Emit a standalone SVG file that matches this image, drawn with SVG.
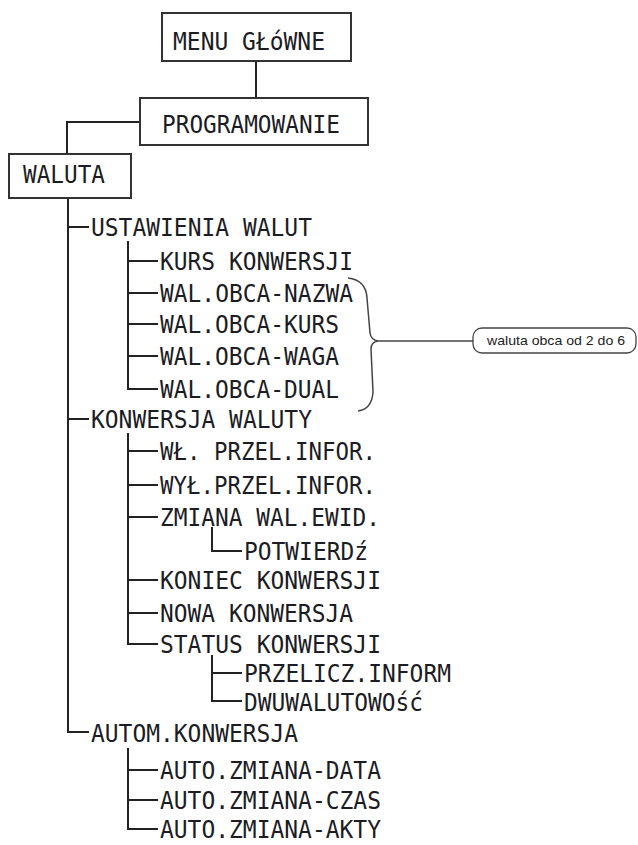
<svg xmlns="http://www.w3.org/2000/svg" width="638" height="845" viewBox="0 0 638 845">
<style>
.box{fill:#fff;stroke:#333;stroke-width:2}
.ln{fill:none;stroke:#222;stroke-width:2}
.br{fill:none;stroke:#444;stroke-width:1.5}
.t{font-family:"DejaVu Sans Mono","Liberation Mono",monospace;font-size:25px;fill:#1c1c24}
.n{font-family:"Liberation Sans",Arial,sans-serif;font-size:13px;fill:#222}
</style>
<rect width="638" height="845" fill="#fff"/>
<g id="connectors">
<path class="ln" d="M256 61V98"/>
<path class="ln" d="M140 122H67V154"/>
<path class="ln" d="M68 198V732H89"/>
<path class="ln" d="M68 227H89M68 419H89"/>
<path class="ln" d="M128 241V389H158M128 261H158M128 293H158M128 324H158M128 356H158"/>
<path class="ln" d="M128 433V644H158M128 451H158M128 485H158M128 517H158M128 580H158M128 613H158"/>
<path class="ln" d="M212 527V551H242"/>
<path class="ln" d="M212 655V701H242M212 673H242"/>
<path class="ln" d="M128 748V829H158M128 770H158M128 800H158"/>
<path class="br" d="M348 278Q366 280 367 298L370 333Q371 340 378 341Q371 342 371 349L373 392Q372 409 358 411"/>
<path class="br" d="M378 341H473"/>
</g>
<g id="menu"><rect class="box" x="162" y="13" width="189" height="48"/><text class="t" x="173" y="50" textLength="152" lengthAdjust="spacingAndGlyphs">MENU GŁóWNE</text></g>
<g id="programowanie"><rect class="box" x="140" y="98" width="228" height="47"/><text class="t" x="162" y="133" textLength="178" lengthAdjust="spacingAndGlyphs">PROGRAMOWANIE</text></g>
<g id="waluta"><rect class="box" x="9" y="154" width="122" height="44"/><text class="t" x="23" y="183" textLength="82" lengthAdjust="spacingAndGlyphs">WALUTA</text></g>
<g id="ustawienia"><text class="t" x="91" y="236" textLength="221" lengthAdjust="spacingAndGlyphs">USTAWIENIA WALUT</text></g>
<g id="kurs-konw"><text class="t" x="160" y="270" textLength="193" lengthAdjust="spacingAndGlyphs">KURS KONWERSJI</text></g>
<g id="obca-nazwa"><text class="t" x="160" y="302" textLength="193" lengthAdjust="spacingAndGlyphs">WAL.OBCA-NAZWA</text></g>
<g id="obca-kurs"><text class="t" x="160" y="333" textLength="179" lengthAdjust="spacingAndGlyphs">WAL.OBCA-KURS</text></g>
<g id="obca-waga"><text class="t" x="160" y="365" textLength="179" lengthAdjust="spacingAndGlyphs">WAL.OBCA-WAGA</text></g>
<g id="obca-dual"><text class="t" x="160" y="398" textLength="179" lengthAdjust="spacingAndGlyphs">WAL.OBCA-DUAL</text></g>
<g id="note"><rect x="473" y="328" width="163" height="25" rx="9" fill="#fff" stroke="#444" stroke-width="1.3"/><text class="n" x="487" y="345" textLength="138" lengthAdjust="spacingAndGlyphs">waluta obca od 2 do 6</text></g>
<g id="konwersja-waluty"><text class="t" x="91" y="428" textLength="221" lengthAdjust="spacingAndGlyphs">KONWERSJA WALUTY</text></g>
<g id="wl"><text class="t" x="160" y="460" textLength="216" lengthAdjust="spacingAndGlyphs">WŁ. PRZEL.INFOR.</text></g>
<g id="wyl"><text class="t" x="160" y="494" textLength="216" lengthAdjust="spacingAndGlyphs">WYŁ.PRZEL.INFOR.</text></g>
<g id="zmiana"><text class="t" x="160" y="526" textLength="220" lengthAdjust="spacingAndGlyphs">ZMIANA WAL.EWID.</text></g>
<g id="potwierdz"><text class="t" x="244" y="560" textLength="124" lengthAdjust="spacingAndGlyphs">POTWIERDź</text></g>
<g id="koniec"><text class="t" x="160" y="589" textLength="221" lengthAdjust="spacingAndGlyphs">KONIEC KONWERSJI</text></g>
<g id="nowa"><text class="t" x="160" y="622" textLength="193" lengthAdjust="spacingAndGlyphs">NOWA KONWERSJA</text></g>
<g id="status"><text class="t" x="160" y="653" textLength="221" lengthAdjust="spacingAndGlyphs">STATUS KONWERSJI</text></g>
<g id="przelicz"><text class="t" x="244" y="682" textLength="207" lengthAdjust="spacingAndGlyphs">PRZELICZ.INFORM</text></g>
<g id="dwuwalutowosc"><text class="t" x="244" y="711" textLength="179" lengthAdjust="spacingAndGlyphs">DWUWALUTOWOść</text></g>
<g id="autom"><text class="t" x="91" y="742" textLength="207" lengthAdjust="spacingAndGlyphs">AUTOM.KONWERSJA</text></g>
<g id="auto-data"><text class="t" x="160" y="779" textLength="221" lengthAdjust="spacingAndGlyphs">AUTO.ZMIANA-DATA</text></g>
<g id="auto-czas"><text class="t" x="160" y="809" textLength="221" lengthAdjust="spacingAndGlyphs">AUTO.ZMIANA-CZAS</text></g>
<g id="auto-akty"><text class="t" x="160" y="838" textLength="221" lengthAdjust="spacingAndGlyphs">AUTO.ZMIANA-AKTY</text></g>
</svg>
